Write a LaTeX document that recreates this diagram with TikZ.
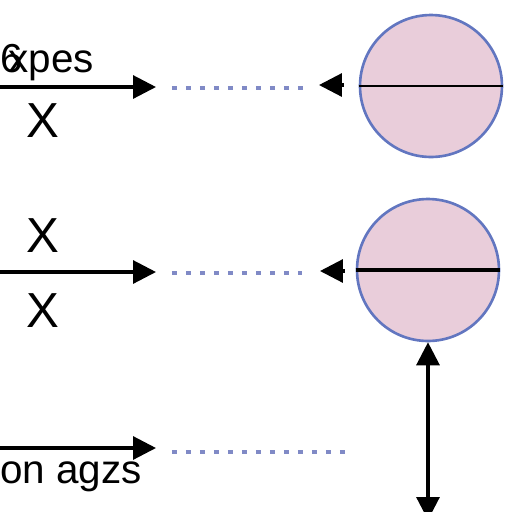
\documentclass[tikz,border=0pt]{standalone}
\usepackage{fontspec}
\setmainfont{Liberation Sans}
\usepackage{tikz}
\usetikzlibrary{arrows.meta}

\definecolor{discfill}{RGB}{233,205,218}
\definecolor{discrim}{RGB}{98,118,192}
\definecolor{dotblue}{RGB}{128,138,198}

\tikzset{
  feed/.style={line width=1.8pt,-{Triangle[length=0.46cm,width=0.46cm]}},
  bothway/.style={line width=1.8pt,{Triangle[length=0.46cm,width=0.46cm]}-{Triangle[length=0.46cm,width=0.46cm]}},
  trail/.style={dotblue,line width=2.2pt,dash pattern=on 0.1cm off 0.18cm},
  disc/.style={circle,draw=discrim,fill=discfill,line width=1.5pt,minimum size=2.84cm,inner sep=0pt},
  mark label/.style={font=\fontsize{28}{30}\selectfont,inner sep=0pt},
  word label/.style={font=\fontsize{23}{26}\selectfont,inner sep=0pt,anchor=base west}
}

\begin{document}
\begin{tikzpicture}[x=0.02cm,y=-0.02cm]
\useasboundingbox (0,0) rectangle (512,512);
\node[disc] (disc1) at (431,86) {}; % Disc.0
\node[disc] (disc2) at (428,270) {}; % Disc.1
\draw[line width=1.6pt] (disc1.west) -- (disc1.east); % disc1 split
\draw[line width=2pt] (disc2.west) -- (disc2.east); % disc2 split
\coordinate (in1) at (-2,87); \coordinate (out1) at (156,87); % Row.0
\coordinate (in2) at (-2,272); \coordinate (out2) at (156,272); % Row.1
\coordinate (in3) at (-2,448); \coordinate (out3) at (156,448); % Row.2
\draw[feed] (in1) -- (out1); % arrow row 0
\draw[feed] (in2) -- (out2); % arrow row 1
\draw[feed] (in3) -- (out3); % arrow row 2
\coordinate (dot1a) at (172,88); \coordinate (dot1b) at (306,88);
\coordinate (dot2a) at (172,273); \coordinate (dot2b) at (302,273);
\coordinate (dot3a) at (172,452); \coordinate (dot3b) at (346,452);
\draw[trail] (dot1a) -- (dot1b); % trail row 0
\draw[trail] (dot2a) -- (dot2b); % trail row 1
\draw[trail] (dot3a) -- (dot3b); % trail row 2
\coordinate (back1) at (344,85); \coordinate (tip1) at (319,85);
\coordinate (back2) at (345,271); \coordinate (tip2) at (320,271);
\draw[feed] (back1) -- (tip1); % head into row 0
\draw[feed] (back2) -- (tip2); % head into row 1
\coordinate (lift) at (428,520);
\draw[bothway] (lift) -- (disc2.south); % height
\node[word label] (name1) at (0,72) {6\kern-0.35em xpes}; % label row 0
\node[mark label] (x1) at (43,121) {X}; % mark row 0
\node[mark label] (x2) at (43,236) {X}; % mark row 1 top
\node[mark label] (x3) at (43,311) {X}; % mark row 1 bottom
\node[word label] (name3) at (0,483) {on agzs}; % label row 2
\end{tikzpicture}
\end{document}
